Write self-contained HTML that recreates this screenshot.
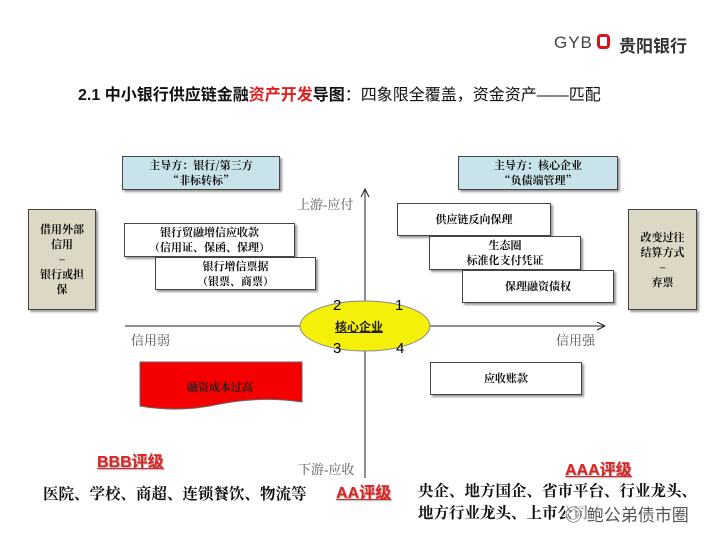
<!DOCTYPE html>
<html><head><meta charset="utf-8"><style>
body{margin:0;width:720px;height:540px;background:#fff;position:relative;overflow:hidden;font-family:"Liberation Sans","Noto Sans CJK SC",sans-serif}
.a{position:absolute;white-space:nowrap}
.box{position:absolute;box-sizing:border-box;border:1.5px solid #444;background:#fff;box-shadow:2px 2px 2px #999;display:flex;align-items:center;justify-content:center;text-align:center;font-family:"Noto Serif CJK SC","Noto Sans CJK SC",serif;font-weight:bold;font-size:11px;line-height:15px;color:#111}
.blue{background:#c9e3ea}
.gray{background:#ddd8c6}
.lbl{font-family:"Liberation Serif","Noto Serif CJK SC",serif;color:#555;font-size:13px}
.red{color:#d22;font-weight:bold;text-decoration:underline;font-size:16px;text-shadow:1px 1px 1px #aaa}
.blk{font-family:"Noto Serif CJK SC",serif;font-weight:bold;font-size:15.5px;color:#111}
</style></head><body>
<div class="a" style="left:554px;top:33px;font-size:17px;color:#444;letter-spacing:1px">GYB</div>
<div class="a" style="left:597px;top:34px;width:13px;height:15px;border:3px solid #d4161c;border-radius:4px;box-sizing:border-box"></div>
<div class="a" style="left:619px;top:32px;font-size:17px;color:#333;font-weight:bold">贵阳银行</div>
<div class="a" style="left:78px;top:81px;font-size:16px;font-weight:bold;color:#111">2.1 中小银行供应链金融<span style="color:#e02020">资产开发</span>导图<span style="font-weight:normal">：四象限全覆盖，资金资产——匹配</span></div>

<div class="box blue" style="left:122px;top:156px;width:158px;height:34px">主导方：银行/第三方<br>“非标转标”</div>
<div class="box blue" style="left:458px;top:156px;width:160px;height:34px">主导方：核心企业<br>“负债端管理”</div>
<div class="box gray" style="left:28px;top:209px;width:68px;height:101px">借用外部<br>信用<br>–<br>银行或担<br>保</div>
<div class="box gray" style="left:628px;top:209px;width:69px;height:101px">改变过往<br>结算方式<br>–<br>弃票</div>
<div class="box" style="left:124px;top:223px;width:171px;height:34px">银行贸融增信应收款<br>（信用证、保函、保理）</div>
<div class="box" style="left:155px;top:257px;width:161px;height:33px">银行增信票据<br>（银票、商票）</div>
<div class="box" style="left:397px;top:203px;width:154px;height:33px">供应链反向保理</div>
<div class="box" style="left:429px;top:236px;width:152px;height:34px">生态圈<br>标准化支付凭证</div>
<div class="box" style="left:462px;top:270px;width:152px;height:33px">保理融资债权</div>
<div class="box" style="left:430px;top:362px;width:152px;height:33px">应收账款</div>

<svg class="a" style="left:0;top:0" width="720" height="540">
<line x1="365" y1="190" x2="365" y2="478" stroke="#222" stroke-width="1"/>
<polyline points="361,197 365,189 369,197" fill="none" stroke="#222"/>
<line x1="125" y1="326" x2="604" y2="326" stroke="#222" stroke-width="1"/>
<polyline points="597,322 605,326 597,330" fill="none" stroke="#222"/>
<ellipse cx="365" cy="326" rx="65" ry="25" fill="#f5f00a" stroke="#888" stroke-width="1"/>
<path d="M140,362 L302,362 L302,402 Q260,396 220,404 Q180,413 140,406 Z" fill="#f40000" stroke="#666" stroke-width="1"/>
<text x="220" y="391" font-size="11" font-weight="bold" text-anchor="middle" font-family="Noto Serif CJK SC,serif" fill="#222">融资成本过高</text>
</svg>
<div class="a" style="left:335px;top:318px;font-size:12px;font-weight:bold;text-decoration:underline;color:#222">核心企业</div>
<div class="a" style="left:333px;top:297px;font-size:15px">2</div>
<div class="a" style="left:395px;top:297px;font-size:15px">1</div>
<div class="a" style="left:333px;top:340px;font-size:15px">3</div>
<div class="a" style="left:396px;top:340px;font-size:15px">4</div>
<div class="a lbl" style="left:131px;top:330px">信用弱</div>
<div class="a lbl" style="left:556px;top:330px">信用强</div>
<div class="a lbl" style="left:297px;top:194px">上游-应付</div>
<div class="a lbl" style="left:298px;top:459px">下游-应收</div>
<div class="a red" style="left:97px;top:448px">BBB评级</div>
<div class="a red" style="left:336px;top:479px">AA评级</div>
<div class="a red" style="left:565px;top:456px">AAA评级</div>
<div class="a blk" style="left:43px;top:482px">医院、学校、商超、连锁餐饮、物流等</div>
<div class="a blk" style="left:418px;top:479px">央企、地方国企、省市平台、行业龙头、</div>
<div class="a blk" style="left:418px;top:501px">地方行业龙头、上市公司</div>
<div class="a" style="left:565px;top:501px;font-size:17px;color:#555;background:rgba(255,255,255,.6)">◎ 鲍公弟债市圈</div>
</body></html>
